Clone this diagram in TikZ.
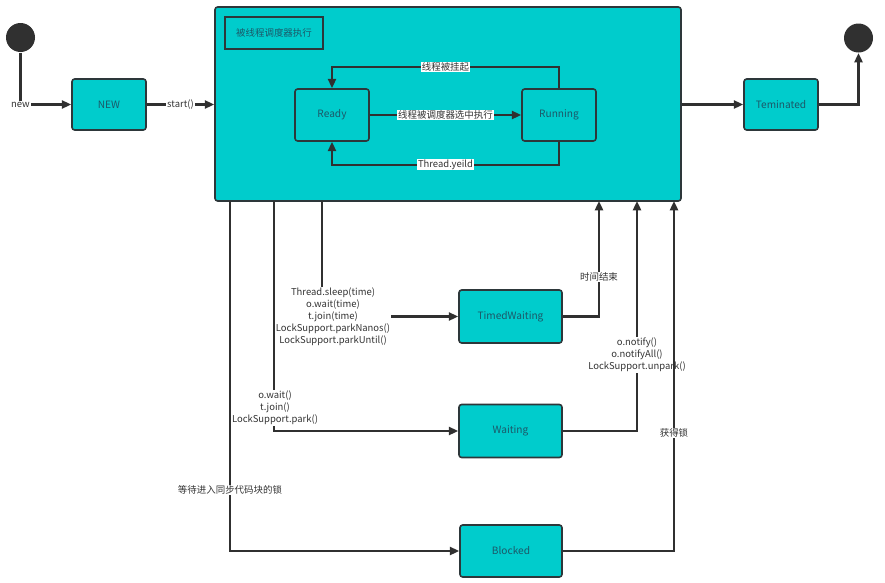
\documentclass[tikz,border=0pt]{standalone}
\usepackage{fontspec}
\setmainfont{Noto Sans CJK SC}
\usetikzlibrary{arrows.meta}

\definecolor{boxfill}{RGB}{0,204,204}
\definecolor{boxline}{RGB}{45,55,58}
\definecolor{boxtext}{RGB}{28,88,104}
\definecolor{wire}{RGB}{48,48,48}

\tikzset{every picture/.style={line width=0.75pt}}
\tikzset{
  state/.style={draw=boxline, line width=1.2pt, fill=boxfill, rounded corners=2pt,
    minimum width=74*0.75pt, minimum height=51*0.75pt, inner sep=0pt,
    text=boxtext, font=\fontsize{7.6}{9}\selectfont},
  wide state/.style={state, minimum width=103*0.75pt, minimum height=53*0.75pt},
  dot/.style={circle, fill=wire, draw=none, minimum size=29*0.75pt, inner sep=0pt},
  conn/.style={draw=wire, line width=1.8pt, -{Triangle[length=7pt,width=6pt]}},
  wire only/.style={draw=wire, line width=1.8pt},
  lab/.style={fill=white, inner sep=0.6pt, align=center, text=black!80,
    font=\fontsize{7.1}{9}\selectfont},
  bare lab/.style={lab, fill=none}
}

\begin{document}
\begin{tikzpicture}[x=0.75pt,y=0.75pt,yscale=-1,xscale=1]
        \useasboundingbox (0,0) rectangle (885,582);
        %Shape: Circle [id:start]
        \node [dot] (startc) at (20.5,37.5) {};
        %Shape: Circle [id:end]
        \node [dot] (endc) at (858.5,38) {};

        %Shape: Rectangle [id:scheduler]
        \node [state, minimum width=466*0.75pt, minimum height=194*0.75pt] (sched) at (448,104) {};
        %Shape: Rectangle [id:title]
        \node [draw=boxline, line width=1.2pt, minimum width=98*0.75pt, minimum height=32*0.75pt,
               inner sep=0pt, font=\fontsize{7.1}{9}\selectfont, text=boxtext] (title) at (274,33) {被线程调度器执行};

        % States
        \node [state] (new) at (109,104.5) {NEW};
        \node [state, minimum height=52*0.75pt] (ready) at (332,115) {Ready};
        \node [state, minimum height=52*0.75pt] (running) at (559,115) {Running};
        \node [state] (term) at (781,104.5) {Teminated};
        \node [wide state] (timed) at (510.5,316.5) {TimedWaiting};
        \node [wide state] (waiting) at (510.5,431) {Waiting};
        \node [wide state, minimum width=102*0.75pt, minimum height=52*0.75pt] (blocked) at (511,551) {Blocked};

        % Points on the bottom edge of the scheduler box
        \coordinate (outB) at (230,201);
        \coordinate (outW) at (274,201);
        \coordinate (outT) at (322,201);
        \coordinate (inT) at (599,201);
        \coordinate (inW) at (637,201);
        \coordinate (inB) at (674,201);

        %Straight Lines [id:new]
        \draw [conn] (startc.south) |- (new.west) node [lab, pos=0.5] (lnew) {new};
        %Straight Lines [id:start]
        \draw [conn] (new.east) -- (sched.west |- new.east) node [lab, midway] (lstart) {start()};
        %Straight Lines [id:dispatch]
        \draw [conn] (ready.east) -- (running.west) node [lab, midway] (ldispatch) {线程被调度器选中执行};
        %Straight Lines [id:suspend]
        \draw [conn] (running.north) -- ++(0,-21) -| (ready.north) node [lab, pos=0.25] (lsuspend) {线程被挂起};
        %Straight Lines [id:yield]
        \draw [conn] (running.south) -- ++(0,23) -| (ready.south) node [lab, pos=0.25] (lyield) {Thread.yeild};
        %Straight Lines [id:terminate]
        \draw [conn] (sched.east |- term.west) -- (term.west);
        \draw [conn] (term.east) -| (endc.south);

        %Straight Lines [id:to blocked]
        \draw [conn] (outB) |- (blocked.west);
        \node [lab] (lblock) at (230,490) {等待进入同步代码块的锁};
        %Straight Lines [id:to waiting]
        \draw [conn] (outW) |- (waiting.west);
        \node [lab] (lwait) at (275,408) {o.wait()\\t.join()\\LockSupport.park()};
        %Straight Lines [id:to timed]
        \draw [conn] (outT) |- (timed.west);
        \node [lab] (ltimed) at (333,317) {Thread.sleep(time)\\o.wait(time)\\t.join(time)\\LockSupport.parkNanos()\\LockSupport.parkUntil()};

        %Straight Lines [id:back from timed]
        \draw [conn] (timed.east) -| (inT);
        \node [lab] (ltimeout) at (599,277) {时间结束};
        %Straight Lines [id:back from waiting]
        \draw [conn] (waiting.east) -| (inW);
        \node [lab] (lnotify) at (637,355) {o.notify()\\o.notifyAll()\\LockSupport.unpark()};
        %Straight Lines [id:back from blocked]
        \draw [conn] (blocked.east) -| (inB);
        \node [lab] (llock) at (674,433) {获得锁};
    \end{tikzpicture}
\end{document}
